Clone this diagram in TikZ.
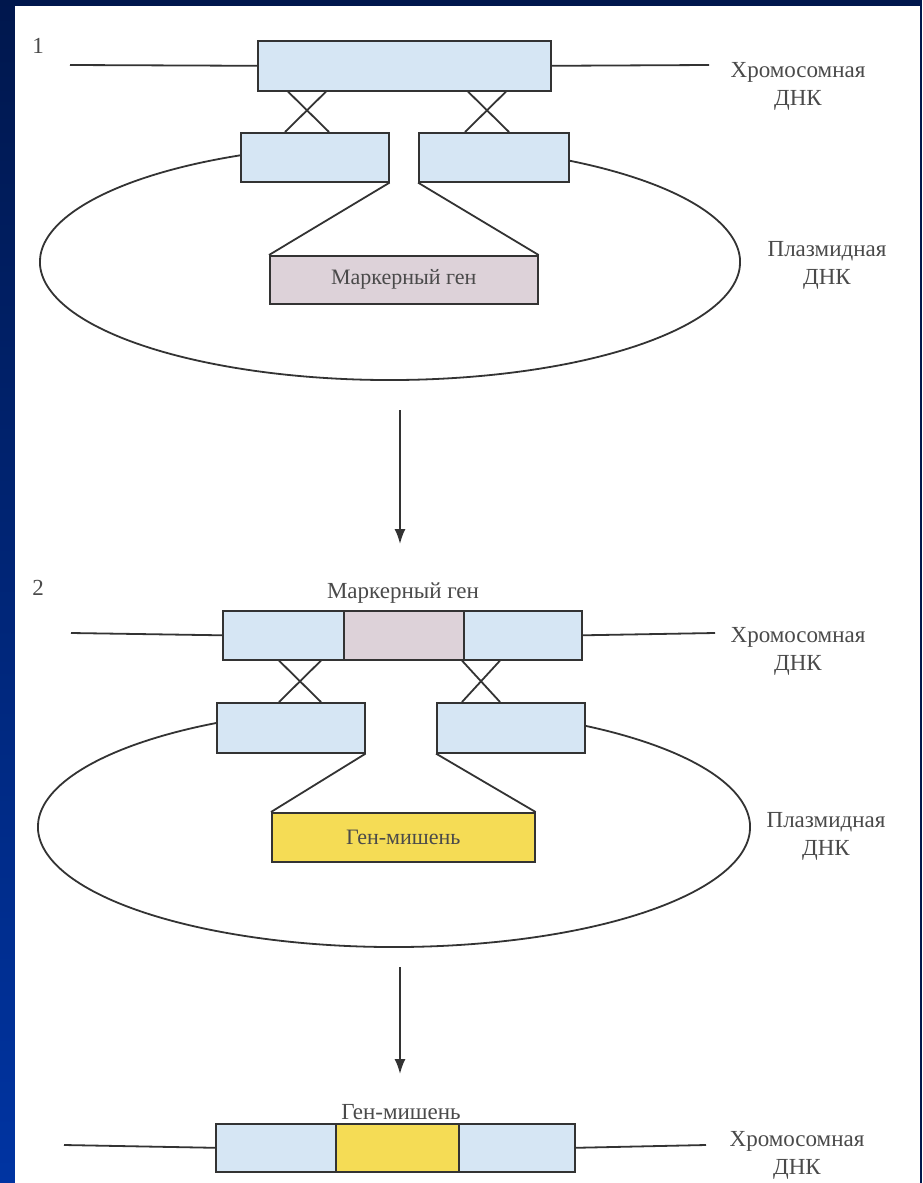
\documentclass[tikz,border=0pt]{standalone}
\usepackage{fontspec}
\setmainfont{Liberation Serif}
\usetikzlibrary{arrows.meta}
\definecolor{dnablue}{HTML}{D6E6F4}
\definecolor{markpink}{HTML}{DDD2D9}
\definecolor{geneyellow}{HTML}{F5DC55}
\definecolor{linegray}{HTML}{333333}
\definecolor{textgray}{HTML}{4A4A4A}
\definecolor{framenavy}{HTML}{00174D}
\definecolor{frameblue}{HTML}{0034A2}
\tikzset{
  seg/.style={draw=linegray, line width=1.6pt, inner sep=0pt, anchor=north west,
    font=\fontsize{22}{26}\selectfont, text=textgray},
  lbl/.style={text=textgray, font=\fontsize{23}{28}\selectfont, align=center},
  ln/.style={linegray, line width=1.8pt},
  flow/.style={ln, -{Latex[length=15pt,width=11pt]}}
}
\begin{document}
\begin{tikzpicture}[x=1pt, y=-1pt]
  \useasboundingbox (0,0) rectangle (922,1183);
  \fill[framenavy] (0,0) rectangle (922,1183);
  \shade[top color=framenavy, bottom color=frameblue] (0,0) rectangle (15,1183);
  \fill[white] (15,6) rectangle (920,1183);

  % 1
  \node[lbl] (numA) at (38,46) {1};
  \coordinate (ellA) at (390,262);
  \draw[ln] ([shift={(105:350pt and 118pt)}]ellA)
    arc[start angle=105, end angle=435, x radius=350pt, y radius=118pt];
  \node[seg, fill=dnablue, minimum width=293pt, minimum height=50pt] (chrA) at (257,40) {};
  \node[seg, fill=dnablue, minimum width=148pt, minimum height=49pt] (slA) at (240,132) {};
  \node[seg, fill=dnablue, minimum width=150pt, minimum height=49pt] (srA) at (418,132) {};
  \node[seg, fill=markpink, minimum width=268pt, minimum height=48pt] (mkA) at (269,255) {Маркерный ген};
  \coordinate (lA) at (70,65);
  \coordinate (rA) at (709,65);
  \draw[ln] (lA) -- (chrA.west) (chrA.east) -- (rA);
  \draw[ln] ([xshift=31pt]chrA.south west) -- ([xshift=89pt]slA.north west)
            ([xshift=69pt]chrA.south west) -- ([xshift=45pt]slA.north west);
  \draw[ln] ([xshift=211pt]chrA.south west) -- ([xshift=91pt]srA.north west)
            ([xshift=249pt]chrA.south west) -- ([xshift=47pt]srA.north west);
  \draw[ln] (slA.south east) -- (mkA.north west) (srA.south west) -- (mkA.north east);
  \node[lbl] (chrtxtA) at (798,86) {Хромосомная\\ДНК};
  \node[lbl] (plstxtA) at (827,265) {Плазмидная\\ДНК};

  \coordinate (arA1) at (400,410);
  \coordinate (arA2) at (400,544);
  \draw[flow] (arA1) -- (arA2);

  % 2
  \node[lbl] (numB) at (38,588) {2};
  \coordinate (ellB) at (394,827);
  \draw[ln] ([shift={(105:356pt and 120pt)}]ellB)
    arc[start angle=105, end angle=435, x radius=356pt, y radius=120pt];
  \node[seg, fill=dnablue, minimum width=121pt, minimum height=49pt] (lfB) at (222,610) {};
  \node[seg, fill=markpink, minimum width=120pt, minimum height=49pt] (mkB) at (343,610) {};
  \node[seg, fill=dnablue, minimum width=118pt, minimum height=49pt] (rtB) at (463,610) {};
  \node[lbl, anchor=base] (mktxtB) at (403,598) {Маркерный ген};
  \node[seg, fill=dnablue, minimum width=148pt, minimum height=50pt] (slB) at (216,702) {};
  \node[seg, fill=dnablue, minimum width=148pt, minimum height=50pt] (srB) at (436,702) {};
  \node[seg, fill=geneyellow, minimum width=263pt, minimum height=49pt] (tgB) at (271,812) {Ген-мишень};
  \coordinate (lB) at (71,633);
  \coordinate (rB) at (715,633);
  \draw[ln] (lB) -- (lfB.west) (rtB.east) -- (rB);
  \draw[ln] ([xshift=57pt]lfB.south west) -- ([xshift=105pt]slB.north west)
            ([xshift=99pt]lfB.south west) -- ([xshift=63pt]slB.north west);
  \draw[ln] ([xshift=-1pt]rtB.south west) -- ([xshift=64pt]srB.north west)
            ([xshift=37pt]rtB.south west) -- ([xshift=26pt]srB.north west);
  \draw[ln] (slB.south east) -- (tgB.north west) (srB.south west) -- (tgB.north east);
  \node[lbl] (chrtxtB) at (798,651) {Хромосомная\\ДНК};
  \node[lbl] (plstxtB) at (826,836) {Плазмидная\\ДНК};

  \coordinate (arB1) at (400,967);
  \coordinate (arB2) at (400,1074);
  \draw[flow] (arB1) -- (arB2);

  % 3
  \node[seg, fill=dnablue, minimum width=120pt, minimum height=48pt] (lfC) at (215,1123) {};
  \node[seg, fill=geneyellow, minimum width=123pt, minimum height=48pt] (tgC) at (335,1123) {};
  \node[seg, fill=dnablue, minimum width=116pt, minimum height=48pt] (rtC) at (458,1123) {};
  \node[lbl, anchor=base] (tgtxtC) at (401,1119) {Ген-мишень};
  \coordinate (lC) at (64,1145);
  \coordinate (rC) at (706,1145);
  \draw[ln] (lC) -- (lfC.west) (rtC.east) -- (rC);
  \node[lbl] (chrtxtC) at (797,1155) {Хромосомная\\ДНК};
\end{tikzpicture}
\end{document}
